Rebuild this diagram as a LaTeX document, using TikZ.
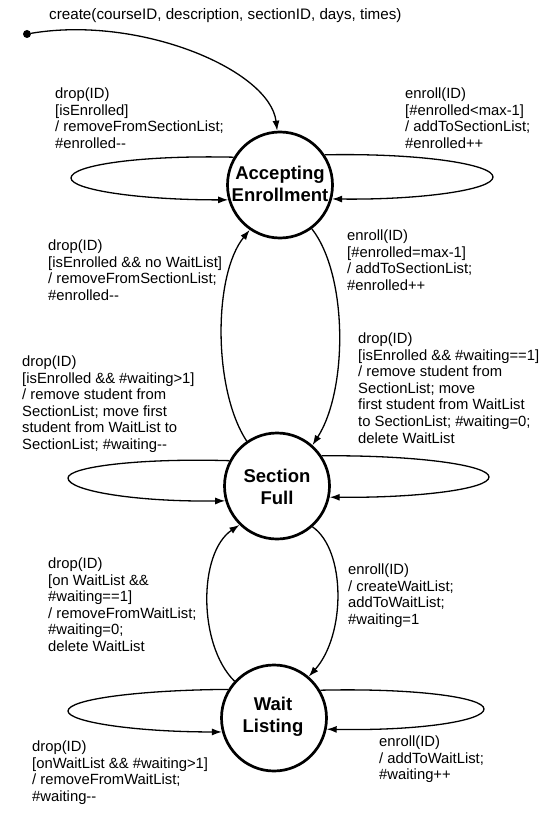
\documentclass[tikz,border=0pt]{standalone}
\usepackage{fontspec}
\setmainfont{Liberation Sans}
\usetikzlibrary{shapes.geometric,arrows.meta}
\newcommand\mm{-\kern0pt-}
\begin{document}
\begin{tikzpicture}[x=1pt,y=-1pt,
  state/.style={ellipse, draw, line width=2.7pt, minimum width=105pt, minimum height=106pt, inner sep=0pt},
  stext/.style={align=center, font=\fontsize{18.5}{22}\selectfont\bfseries, inner sep=0pt},
  lab/.style={align=left, anchor=north west, inner sep=0pt, font=\fontsize{14.8}{16.6}\selectfont},
  tr/.style={line width=1.3pt, -{Latex[length=10pt,width=7pt]}}]
\useasboundingbox (0,0) rectangle (555,813);

% states
\node[state] (A) at (280,185) {};
\node[stext] (At) at (280,184) {Accepting\\Enrollment};
\node[state] (S) at (277,486) {};
\node[stext] (St) at (277,487) {Section\\Full};
\node[state] (W) at (274,718) {};
\node[stext] (Wt) at (273,716.5) {Wait\\Listing};

% initial
\node[circle, fill, inner sep=0pt, minimum size=8pt] (init) at (27,34) {};
\draw[tr] (init) .. controls (140,15) and (270,70) .. (A.93);

% A loops
\coordinate (aL) at (71,178);
\draw[tr] (A.149) .. controls (142,155) and (71,165) .. (aL) .. controls (71,190) and (141,200) .. (A.196);
\coordinate (aR) at (493,177);
\draw[tr] (A.34) .. controls (419,153) and (493,164) .. (aR) .. controls (493,190) and (420,200) .. (A.345);

% A <-> S
\draw[tr] (S.124) .. controls (213,390) and (213,275) .. (A.236);
\draw[tr] (A.306) .. controls (348,275) and (348,390) .. (S.49);

% S loops
\coordinate (sL) at (68,478);
\draw[tr] (S.152) .. controls (138,458) and (68,467) .. (sL) .. controls (68,491) and (137,502) .. (S.196);
\coordinate (sR) at (489,477);
\draw[tr] (S.34) .. controls (415,455) and (489,465) .. (sR) .. controls (489,489) and (419,498) .. (S.348);

% S <-> W
\draw[tr] (W.137) .. controls (198,645) and (198,553) .. (S.226);
\draw[tr] (S.311) .. controls (346,550) and (346,635) .. (W.50);

% W loops
\coordinate (wL) at (68,711);
\draw[tr] (W.148) .. controls (141,690) and (68,699) .. (wL) .. controls (68,722) and (136,732) .. (W.195);
\coordinate (wR) at (484,709);
\draw[tr] (W.31) .. controls (412,688) and (484,697) .. (wR) .. controls (484,721) and (418,731) .. (W.348);

% labels
\node[lab, font=\fontsize{15.2}{16.6}\selectfont] (lc) at (49,8.4) {create(courseID, description, sectionID, days, times)};
\node[lab] (l1) at (55,87.5) {drop(ID)\\{[}isEnrolled]\\/ removeFromSectionList;\\\#enrolled\mm};
\node[lab] (r1) at (405,87.5) {enroll(ID)\\{[}\#enrolled<max-1]\\/ addToSectionList;\\\#enrolled++};
\node[lab] (l2) at (48,239.5) {drop(ID)\\{[}isEnrolled \&\& no WaitList]\\/ removeFromSectionList;\\\#enrolled\mm};
\node[lab] (r2) at (347,229.5) {enroll(ID)\\{[}\#enrolled=max-1]\\/ addToSectionList;\\\#enrolled++};
\node[lab] (r3) at (358,332.5) {drop(ID)\\{[}isEnrolled \&\& \#waiting==1]\\/ remove student from\\SectionList; move\\first student from WaitList\\to SectionList; \#waiting=0;\\delete WaitList};
\node[lab] (l3) at (22,355.5) {drop(ID)\\{[}isEnrolled \&\& \#waiting>1]\\/ remove student from\\SectionList; move first\\student from WaitList to\\SectionList; \#waiting\mm};
\node[lab] (l4) at (48,557.5) {drop(ID)\\{[}on WaitList \&\&\\\#waiting==1]\\/ removeFromWaitList;\\\#waiting=0;\\delete WaitList};
\node[lab] (r4) at (348,563.5) {enroll(ID)\\/ createWaitList;\\addToWaitList;\\\#waiting=1};
\node[lab] (l5) at (32,740.5) {drop(ID)\\{[}onWaitList \&\& \#waiting>1]\\/ removeFromWaitList;\\\#waiting\mm};
\node[lab] (r5) at (379,735.5) {enroll(ID)\\/ addToWaitList;\\\#waiting++};
\end{tikzpicture}
\end{document}
